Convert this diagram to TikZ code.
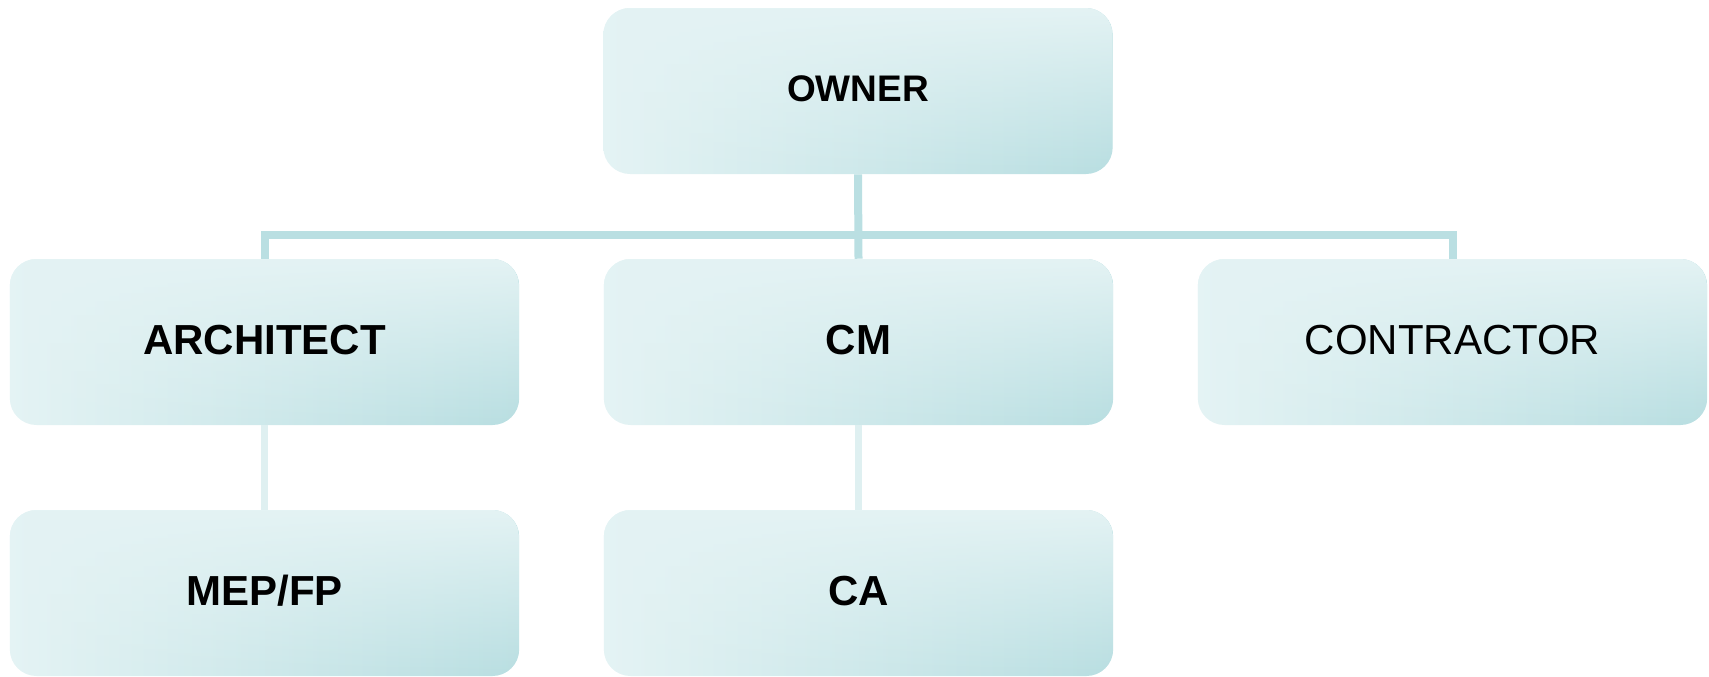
\documentclass[tikz,border=0pt]{standalone}
\usepackage{fontspec}
\setmainfont{Liberation Sans}
\usetikzlibrary{fadings}
\definecolor{boxlight}{HTML}{E4F3F4}
\definecolor{boxdark}{HTML}{B8DEE1}
\definecolor{busline}{HTML}{BADFE2}
\definecolor{subline}{HTML}{DFF0F1}
\tikzfading[name=boxfade, top color=transparent!0, bottom color=transparent!100]
\tikzset{
  orgbox/.style={rectangle, rounded corners=20pt, minimum width=382pt, minimum height=124.5pt,
    inner sep=0pt, text depth=4pt, left color=boxlight, right color=boxdark,
    path picture={\fill[boxlight, path fading=boxfade]
      (path picture bounding box.south west) rectangle (path picture bounding box.north east);}},
  bigbold/.style={font=\fontsize{31.5}{36}\selectfont\bfseries},
  bigreg/.style={font=\fontsize{31.5}{36}\selectfont},
  topbold/.style={font=\fontsize{27.75}{32}\selectfont\bfseries, text depth=3pt},
  bustl/.style={draw=busline, line width=6pt},
  subl/.style={draw=subline, line width=5.5pt}
}
\begin{document}
\begin{tikzpicture}[x=0.75pt,y=-0.75pt]
\useasboundingbox (0,0) rectangle (1709,676);
\node[orgbox, topbold] (owner) at (858,91) {OWNER};
\node[orgbox, bigbold] (arch) at (264.5,342) {ARCHITECT};
\node[orgbox, bigbold] (cm) at (858.5,342) {CM};
\node[orgbox, bigreg] (contr) at (1452.5,342) {CONTRACTOR};
\node[orgbox, bigbold] (mep) at (264.5,593) {MEP/FP};
\node[orgbox, bigbold] (ca) at (858.5,593) {CA};
\coordinate (bus) at (858,235);
\draw[bustl] (owner.south) -- (cm.north);
\draw[bustl] (arch.north) -- (arch.north |- bus) -- (contr.north |- bus) -- (contr.north);
\draw[subl] (arch.south) -- (mep.north);
\draw[subl] (cm.south) -- (ca.north);
\end{tikzpicture}
\end{document}
